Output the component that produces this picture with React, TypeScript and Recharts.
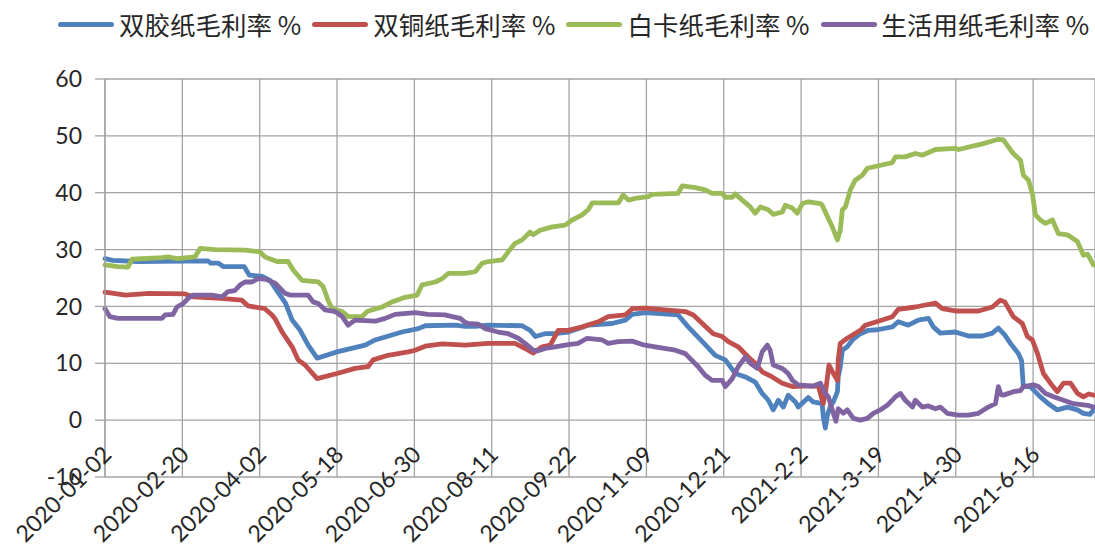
import React from 'react';
import { LineChart, Line, XAxis, YAxis, CartesianGrid, Legend } from 'recharts';

// Trading-day index of each labelled date (one label every 30 sessions)
const tickDays = [0, 30, 60, 90, 120, 150, 180, 210, 240, 270, 300, 330, 360];
const tickDates = [
  '2020-01-02', '2020-02-20', '2020-04-02', '2020-05-18', '2020-06-30', '2020-08-11',
  '2020-09-22', '2020-11-09', '2020-12-21', '2021-2-2', '2021-3-19', '2021-4-30', '2021-6-16',
];
const yTicks = [-10, 0, 10, 20, 30, 40, 50, 60];

// [trading-day index, gross margin %]
const offsetPaper: [number, number][] = [
  [0, 28.4], [3, 28.1], [13, 27.9], [40, 28.0], [41, 27.6], [44, 27.6], [46, 27.0], [54, 27.0],
  [56, 25.5], [61, 25.3], [64, 24.6], [66, 23.2], [70, 20.6], [72.6, 17.6], [75.7, 15.8], [78.8, 13.2],
  [82.3, 10.9], [90, 12.0], [100.9, 13.2], [104.8, 14.1], [115.2, 15.5], [121.5, 16.1], [124.2, 16.6],
  [135.8, 16.7], [139.7, 16.5], [143.6, 16.5], [148.6, 16.7], [161.8, 16.6], [164.9, 15.8], [166.9, 14.7],
  [170.7, 15.2], [174.6, 15.2], [179.7, 15.5], [187.4, 16.7], [196.7, 17.0], [201.8, 17.6], [204.5, 18.6],
  [209.5, 18.9], [222.3, 18.5], [226.2, 16.4], [231.7, 13.8], [236.7, 11.4], [240.6, 10.6], [244.5, 8.2],
  [248.4, 7.6], [252.2, 6.7], [254.9, 4.7], [257.3, 3.5], [259.2, 1.8], [261.2, 3.5], [263.1, 2.3],
  [265, 4.4], [267.8, 3.2], [268.9, 2.3], [272.8, 4.0], [274.7, 3.2], [278.2, 2.9], [278.6, 0.6],
  [279.4, -1.4], [280.2, 0.9], [281.4, 2.5], [282.5, 3.2], [284.1, 5.0], [284.4, 7.6], [285.2, 9.4],
  [286, 12.3], [287.9, 12.9], [289.9, 14.1], [293, 15.2], [296.1, 15.8], [299.6, 15.9], [305.4, 16.4],
  [307.7, 17.3], [311.6, 16.7], [315.5, 17.6], [319.4, 17.9], [321.3, 16.4], [324, 15.3], [329.8, 15.5],
  [334.9, 14.8], [340.3, 14.8], [344.2, 15.3], [346.5, 16.2], [349, 15.0], [351.2, 13.5], [354.3, 11.7],
  [355.5, 10.5], [356.2, 5.9], [358.9, 5.9], [362.8, 4.1], [365.9, 2.9], [369.4, 1.8], [373.3, 2.3],
  [377.2, 1.8], [379.5, 1.2], [382, 1.0], [383.4, 1.8],
];

const coatedPaper: [number, number][] = [
  [0, 22.5], [8, 22.0], [17, 22.3], [31, 22.2], [34, 21.7], [45, 21.4], [53, 21.1], [55.5, 20.1],
  [62, 19.6], [64.8, 18.5], [66, 17.8], [68.7, 15.5], [72.6, 12.9], [74.9, 10.6], [77.6, 9.7],
  [82.3, 7.3], [90, 8.2], [97, 9.1], [102, 9.4], [104, 10.6], [109.8, 11.4], [117.6, 12.0], [120.3, 12.3],
  [124.2, 13.0], [130.8, 13.4], [139.7, 13.2], [148.6, 13.5], [159, 13.5], [163, 12.6], [166.1, 11.8],
  [169.6, 12.9], [172.7, 13.2], [175.8, 15.8], [179.7, 15.8], [185.1, 16.4], [191.3, 17.3], [195.2, 18.2],
  [201.8, 18.5], [204.5, 19.6], [209.5, 19.7], [225.1, 19.1], [228.2, 18.5], [231.7, 17.0], [235.9, 15.2],
  [239.4, 14.7], [241.8, 13.8], [245.6, 12.9], [249.5, 11.1], [252.2, 10.0], [254.9, 8.5], [258.8, 7.6],
  [262.7, 6.5], [266.6, 5.9], [270.5, 6.0], [276.7, 6.0], [278.6, 2.9], [279.5, 5.0], [280.8, 9.7],
  [282.5, 8.2], [284.1, 7.0], [284.4, 10.6], [285.2, 13.5], [287.9, 14.4], [293, 15.8], [294.9, 16.7],
  [301.5, 17.6], [305.4, 18.2], [307.7, 19.5], [314.3, 19.9], [322.1, 20.6], [324.8, 19.6], [329.8, 19.2],
  [338.8, 19.2], [344.2, 19.9], [347.3, 21.1], [349, 20.8], [352.3, 18.2], [355.8, 17.0], [357.8, 14.7],
  [359.7, 14.1], [361.7, 11.7], [364, 8.2], [366.7, 6.5], [369.4, 5.0], [371.8, 6.5], [374.5, 6.5],
  [377.2, 4.7], [379.5, 4.1], [381.5, 4.6], [383.4, 4.4],
];

const ivoryBoard: [number, number][] = [
  [0, 27.3], [5, 27.0], [8.9, 26.9], [10.5, 28.3], [22.1, 28.6], [24.4, 28.7], [28, 28.4], [34.9, 28.7],
  [36.9, 30.2], [42.7, 30.0], [54.3, 29.9], [60.1, 29.6], [62.1, 28.7], [66.7, 27.9], [71, 27.9],
  [73, 26.4], [76.4, 24.6], [82.7, 24.3], [84.6, 23.5], [86.5, 21.1], [88.1, 19.6], [92, 19.1],
  [94.3, 18.2], [99.7, 18.2], [101.7, 19.1], [103.6, 19.4], [107.5, 19.9], [111.4, 20.8], [116.4, 21.6],
  [121.1, 22.0], [123, 23.8], [128.1, 24.3], [130.8, 24.9], [133.1, 25.8], [139.7, 25.8], [143.6, 26.1],
  [146.3, 27.6], [148.6, 27.9], [154.1, 28.2], [156.4, 29.6], [159.1, 31.1], [161.8, 31.7], [164.9, 33.1],
  [166.1, 32.6], [168.8, 33.4], [173.5, 34.0], [178.5, 34.3], [181.2, 35.2], [185.1, 36.1], [187.4, 37.0],
  [189, 38.2], [199.1, 38.2], [201, 39.6], [203, 38.7], [205.7, 39.0], [210.7, 39.3], [212.3, 39.7],
  [222.3, 39.9], [223.9, 41.2], [229, 40.9], [232.8, 40.5], [235.5, 39.9], [239.4, 39.9], [240.6, 39.2],
  [243.3, 39.2], [244.5, 39.8], [247.2, 38.7], [250.3, 37.5], [252.2, 36.4], [254.2, 37.5], [257.3, 37.0],
  [259.2, 36.2], [262.7, 36.6], [263.9, 37.8], [266.6, 37.3], [268.5, 36.4], [270.5, 38.1], [272.8, 38.4],
  [277.5, 38.1], [278.2, 37.8], [280.2, 35.8], [282.1, 34.0], [284.1, 31.7], [285.2, 33.4], [286, 37.0],
  [287.2, 37.5], [289.1, 40.5], [291, 42.2], [293.8, 43.1], [295.7, 44.3], [299.6, 44.7], [305.4, 45.3],
  [306.6, 46.3], [310.4, 46.3], [314.3, 46.9], [317, 46.6], [322.1, 47.6], [329.8, 47.8], [331, 47.6],
  [340.3, 48.6], [344.2, 49.1], [346.5, 49.4], [348.5, 49.3], [349.2, 48.8], [352.3, 46.9], [355.1, 45.7],
  [356.2, 43.1], [358.2, 42.2], [359.7, 39.9], [360.9, 36.1], [362.8, 35.2], [364.8, 34.6], [367.5, 35.2],
  [369.8, 32.8], [373.3, 32.6], [377.2, 31.4], [379.5, 29.0], [381.1, 29.2], [383.4, 27.3],
];

const tissuePaper: [number, number][] = [
  [0, 19.6], [1.9, 18.2], [5, 17.9], [22.1, 17.9], [23.3, 18.5], [26.4, 18.6], [27.9, 19.9], [30.3, 20.5],
  [32.2, 21.4], [34.1, 22.0], [41.5, 22.0], [45.4, 21.7], [47.7, 22.6], [50.4, 22.8], [52.4, 23.8],
  [54.3, 24.3], [57, 24.3], [59.4, 24.9], [62.1, 24.8], [66, 24.1], [69.8, 22.3], [71.8, 22.0],
  [78.8, 22.0], [80.7, 20.8], [82.7, 20.5], [85.4, 19.4], [89.3, 19.1], [92, 18.2], [94.3, 16.7],
  [97, 17.6], [100.9, 17.5], [104.8, 17.4], [108.7, 17.9], [112.5, 18.6], [120.3, 18.9], [125.3, 18.6],
  [131.9, 18.5], [134.7, 18.2], [137.8, 17.9], [139.7, 17.2], [140.9, 17.0], [144.7, 16.9], [147.5, 16.1],
  [152.5, 15.5], [156.4, 15.2], [160.3, 14.4], [163.8, 13.2], [166.1, 12.3], [168, 12.2], [170.7, 12.6],
  [174.6, 12.9], [179.7, 13.3], [183.5, 13.5], [187, 14.4], [192.9, 14.1], [195.2, 13.5], [199.1, 13.8],
  [204.5, 13.9], [208.4, 13.3], [213.4, 12.9], [221.2, 12.3], [225.1, 11.7], [230.1, 9.4], [232.8, 7.9],
  [235.5, 7.0], [239.4, 7.0], [240.6, 5.9], [243.3, 7.3], [245.6, 9.4], [248.4, 11.1], [250.3, 10.0],
  [253, 9.1], [254.9, 12.0], [256.9, 13.2], [258, 12.3], [259.2, 9.7], [262.7, 9.1], [265, 8.2],
  [266.6, 7.0], [268.9, 6.2], [274.7, 6.0], [277.5, 6.5], [279.4, 4.7], [280.6, 4.1], [282.1, 1.8],
  [283.5, -0.2], [284.4, 2.0], [286.4, 1.2], [287.9, 1.8], [290.3, 0.3], [293, 0], [295.7, 0.3],
  [298, 1.2], [300.7, 1.8], [303.4, 2.6], [306.6, 4.1], [308.5, 4.7], [310.4, 3.5], [313.2, 2.3],
  [314.3, 3.5], [317, 2.3], [319.4, 2.5], [322.1, 2.0], [324, 2.3], [326.7, 1.2], [331, 0.9],
  [334.9, 0.9], [338.8, 1.2], [342.6, 2.3], [345.4, 2.9], [346.5, 5.9], [347.5, 4.5], [348.5, 4.4],
  [352.3, 5.0], [355.1, 5.2], [356.2, 5.9], [360.1, 6.2], [362, 5.9], [364.8, 4.7], [367.9, 4.1],
  [371.8, 3.5], [375.6, 2.9], [381.1, 2.6], [383.4, 2.3],
];

const seriesList = [
  { name: '双胶纸毛利率 %', color: '#4F81BD', points: offsetPaper },
  { name: '双铜纸毛利率 %', color: '#C0504D', points: coatedPaper },
  { name: '白卡纸毛利率 %', color: '#9BBB59', points: ivoryBoard },
  { name: '生活用纸毛利率 %', color: '#8064A2', points: tissuePaper },
];

const toRows = (pts: [number, number][]) => pts.map(([day, value]) => ({ day, value }));

const GRID = '#a3a3a3';
const TEXT = '#262626';
const LATIN = 'Lato, "Open Sans", sans-serif';
const CJK = '"Noto Sans CJK SC", "Noto Sans", sans-serif';

const DateTick = (props: any) => {
  const { x, y, payload } = props;
  const idx = tickDays.indexOf(payload.value);
  const label = idx >= 0 ? tickDates[idx] : '';
  const ax = x + 8;
  const ay = y - 21;
  return (
    <text
      x={ax}
      y={ay}
      textAnchor="end"
      transform={`rotate(-45, ${ax}, ${ay})`}
      fontFamily={LATIN}
      fontSize={23}
      fill={TEXT}
    >
      {label}
    </text>
  );
};

// Legend keeps the series order of seriesList
const LegendRow = () => (
  <div
    style={{
      display: 'flex',
      alignItems: 'center',
      marginLeft: 58,
      fontFamily: CJK,
      fontSize: 25.5,
      lineHeight: '30px',
      color: TEXT,
      whiteSpace: 'nowrap',
    }}
  >
    {seriesList.map((s) => (
      <div key={s.name} style={{ display: 'flex', alignItems: 'center', marginRight: 11 }}>
        <span
          style={{
            display: 'inline-block',
            width: 56,
            height: 5,
            borderRadius: 2.5,
            background: s.color,
            marginRight: 5,
          }}
        />
        <span>{s.name}</span>
      </div>
    ))}
  </div>
);

export default function App() {
  return (
    <div style={{ position: 'fixed', left: 0, top: 0, width: 1095, height: 547, background: '#fff' }}>
      <LineChart width={1095} height={547} margin={{ top: 79, right: 0, bottom: 0, left: 0 }}>
        <CartesianGrid stroke={GRID} strokeWidth={1.3} />
        <XAxis
          dataKey="day"
          type="number"
          domain={[0, 384]}
          ticks={tickDays}
          interval={0}
          height={70}
          tickLine={false}
          axisLine={false}
          tickSize={0}
          tickMargin={0}
          tick={<DateTick />}
          allowDuplicatedCategory={false}
        />
        <YAxis
          type="number"
          domain={[-10, 60]}
          ticks={yTicks}
          interval={0}
          width={105}
          axisLine={{ stroke: GRID, strokeWidth: 1.3 }}
          tickLine={{ stroke: GRID, strokeWidth: 1.3 }}
          tickSize={10}
          tickMargin={13}
          tick={{ fontFamily: LATIN, fontSize: 23, fill: TEXT }}
        />
        <Legend
          verticalAlign="middle"
          align="center"
          layout="horizontal"
          wrapperStyle={{ top: 9, left: 0, width: 1095 }}
          content={<LegendRow />}
        />
        {seriesList.map((s) => (
          <Line
            key={s.name}
            name={s.name}
            data={toRows(s.points)}
            dataKey="value"
            type="linear"
            stroke={s.color}
            strokeWidth={4.8}
            strokeLinejoin="round"
            strokeLinecap="round"
            dot={false}
            activeDot={false}
            isAnimationActive={false}
          />
        ))}
      </LineChart>
    </div>
  );
}
